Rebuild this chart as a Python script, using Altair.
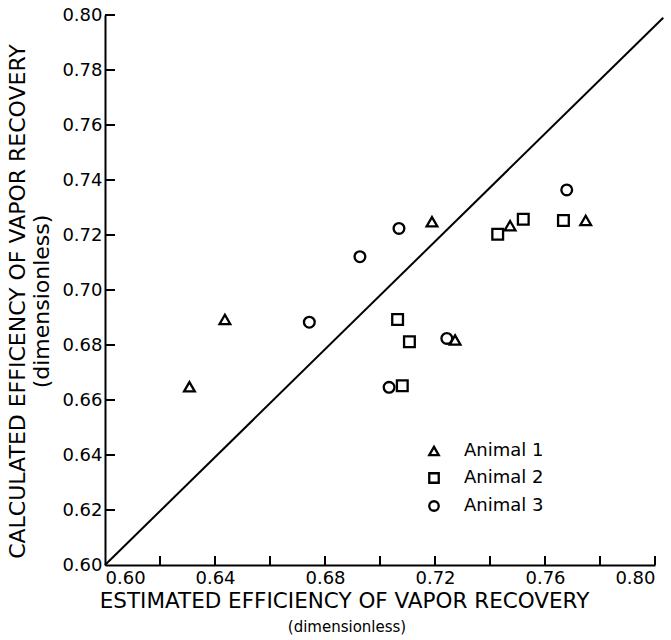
import altair as alt
import pandas as pd

# Estimated vs calculated efficiency of vapor recovery, per animal
animal1_est = [0.6307, 0.6436, 0.7189, 0.7473, 0.7748, 0.7273]
animal1_calc = [0.6648, 0.6893, 0.7248, 0.7234, 0.7253, 0.6818]

animal2_est = [0.7064, 0.7107, 0.7081, 0.7428, 0.7521, 0.7667]
animal2_calc = [0.6893, 0.6812, 0.6652, 0.7203, 0.7257, 0.7253]

animal3_est = [0.6743, 0.6927, 0.7069, 0.7033, 0.7243, 0.7679]
animal3_calc = [0.6883, 0.7121, 0.7224, 0.6646, 0.6824, 0.7364]

series_names = ["Animal 1", "Animal 2", "Animal 3"]
series_shapes = ["triangle-up", "square", "circle"]

# line of identity
identity_x = [0.60, 0.803]
identity_y = [0.60, 0.799]

x_label_values = [0.60, 0.64, 0.68, 0.72, 0.76, 0.80]
x_tick_values = [0.62, 0.64, 0.66, 0.68, 0.70, 0.72, 0.74, 0.76, 0.78, 0.80]
y_label_values = [0.60, 0.62, 0.64, 0.66, 0.68, 0.70, 0.72, 0.74, 0.76, 0.78, 0.80]
y_tick_values = [0.62, 0.64, 0.66, 0.68, 0.70, 0.72, 0.74, 0.76, 0.78, 0.80]

x_title = "ESTIMATED EFFICIENCY OF VAPOR RECOVERY"
x_subtitle = "(dimensionless)"
y_title = ["CALCULATED EFFICENCY OF VAPOR RECOVERY", "(dimensionless)"]

rows = []
for name, xs_, ys_ in zip(series_names,
                          [animal1_est, animal2_est, animal3_est],
                          [animal1_calc, animal2_calc, animal3_calc]):
    for a, b in zip(xs_, ys_):
        rows.append({"animal": name, "est": a, "calc": b})
points_df = pd.DataFrame(rows)
identity_df = pd.DataFrame({"est": identity_x, "calc": identity_y})
xticks_df = pd.DataFrame({"v": x_tick_values})
yticks_df = pd.DataFrame({"v": y_tick_values})

FONT = "DejaVu Sans"
W, H = 550, 550

x_scale = alt.Scale(domain=[0.60, 0.80], nice=False, zero=False)
y_scale = alt.Scale(domain=[0.60, 0.80], nice=False, zero=False)

x_axis = alt.Axis(
    values=x_label_values, format=".2f", ticks=False, grid=False,
    domainColor="black", domainWidth=2, labelFlush=True, labelPadding=4,
    labelFont=FONT, labelFontSize=18, labelColor="black",
    title=x_title, titleFont=FONT, titleFontSize=21.5, titleFontWeight="normal",
    titleColor="black", titleX=239, titleY=36, titleBaseline="middle",
    titleAlign="center",
)
y_axis = alt.Axis(
    values=y_label_values, format=".2f", ticks=False, grid=False,
    domainColor="black", domainWidth=2, labelPadding=3,
    labelFont=FONT, labelFontSize=18, labelColor="black",
    title=y_title, titleFont=FONT, titleFontSize=22, titleFontWeight="normal",
    titleColor="black", titleLineHeight=24, titleX=-88, titleY=286,
    titleBaseline="middle", titleAlign="center",
)

points = alt.Chart(points_df).mark_point(
    filled=False, color="black", strokeWidth=2.3, size=115, opacity=1
).encode(
    x=alt.X("est:Q", scale=x_scale, axis=x_axis),
    y=alt.Y("calc:Q", scale=y_scale, axis=y_axis),
    shape=alt.Shape(
        "animal:N",
        scale=alt.Scale(domain=series_names, range=series_shapes),
        legend=alt.Legend(
            orient="none", legendX=320, legendY=427, title=None,
            labelFont=FONT, labelFontSize=18, labelColor="black",
            symbolStrokeColor="black", symbolFillColor="white",
            symbolStrokeWidth=2.3, symbolSize=90, rowPadding=8,
            labelOffset=21, padding=0,
        ),
    ),
)

identity = alt.Chart(identity_df).mark_line(
    color="black", strokeWidth=2, clip=False
).encode(x="est:Q", y="calc:Q")

# tick marks drawn on the inside of both axes
x_ticks = alt.Chart(xticks_df).mark_rule(color="black", strokeWidth=2).encode(
    x="v:Q", y=alt.value(H), y2=alt.value(H - 9)
)
y_ticks = alt.Chart(yticks_df).mark_rule(color="black", strokeWidth=2).encode(
    y="v:Q", x=alt.value(0), x2=alt.value(10)
)

subtitle = alt.Chart(pd.DataFrame({"t": [x_subtitle]})).mark_text(
    font=FONT, fontSize=15, color="black", align="center", baseline="middle"
).encode(text="t:N", x=alt.value(242), y=alt.value(H + 62))

chart = alt.layer(identity, x_ticks, y_ticks, points, subtitle).properties(
    width=W, height=H,
    autosize=alt.AutoSizeParams(type="none"),
    padding={"left": 105, "top": 15, "right": 16, "bottom": 75},
    background="white",
).configure_view(stroke=None)

chart.save("out.html", embed_options={"renderer": "svg", "actions": False})
